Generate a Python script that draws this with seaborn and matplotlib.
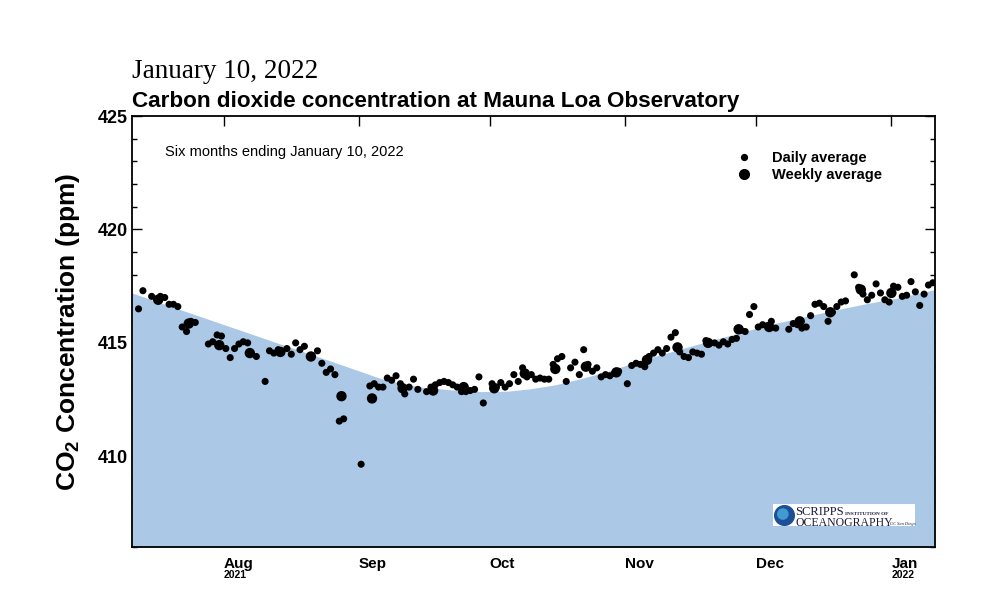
import numpy as np
import pandas as pd
import matplotlib
matplotlib.use("Agg")
import matplotlib.pyplot as plt
from matplotlib.lines import Line2D
from matplotlib.patches import Rectangle
from matplotlib.ticker import MultipleLocator
import seaborn as sns

start = pd.Timestamp("2021-07-11")
end = pd.Timestamp("2022-01-11")

# daily averages: days after Jul 11 2021, ppm
daily_day = [1, 2, 4, 6, 7, 8, 9, 10, 11, 12,
             13, 14, 17, 18, 19, 20, 21, 22, 23, 24,
             25, 26, 28, 30, 31, 32, 33, 35, 36, 37,
             38, 39, 42, 43, 44, 45, 46, 47, 48, 52,
             54, 55, 56, 57, 58, 59, 60, 61, 62, 63,
             64, 65, 67, 68, 69, 70, 71, 72, 73, 74,
             75, 76, 77, 78, 79, 80, 82, 83, 84, 85,
             86, 87, 88, 89, 90, 91, 92, 93, 94, 95,
             96, 97, 98, 99, 100, 101, 102, 103, 104, 105,
             106, 107, 108, 109, 110, 111, 113, 114, 115, 116,
             117, 118, 119, 120, 121, 122, 123, 124, 125, 126,
             127, 128, 129, 130, 131, 132, 133, 134, 135, 136,
             137, 138, 139, 140, 141, 142, 143, 144, 145, 146,
             147, 150, 151, 152, 153, 154, 155, 156, 157, 158,
             159, 160, 161, 162, 163, 165, 166, 167, 168, 169,
             170, 171, 172, 173, 174, 175, 176, 177, 178, 179,
             180, 181, 182, 183]
daily_ppm = [416.5, 417.3, 417.05, 417.05, 417.0, 416.7, 416.7, 416.6, 415.7, 415.5,
             415.95, 415.9, 414.95, 415.05, 415.35, 415.3, 414.75, 414.35, 414.75, 414.95,
             415.05, 415.0, 414.4, 413.3, 414.65, 414.55, 414.7, 414.75, 414.5, 415.0,
             414.7, 414.85, 414.65, 414.1, 413.7, 413.85, 413.6, 411.55, 411.65, 409.65,
             413.1, 413.2, 413.05, 413.05, 413.45, 413.35, 413.55, 413.2, 412.75, 413.05,
             413.4, 412.95, 412.85, 413.05, 413.15, 413.25, 413.3, 413.25, 413.15, 413.05,
             412.85, 412.85, 412.9, 412.95, 413.5, 412.35, 413.2, 413.05, 413.25, 413.05,
             413.2, 413.6, 413.3, 413.9, 413.5, 413.6, 413.4, 413.45, 413.4, 413.4,
             414.05, 414.3, 414.4, 413.3, 413.9, 414.15, 413.6, 414.7, 414.05, 413.75,
             413.9, 413.5, 413.6, 413.55, 413.65, 413.75, 413.2, 414.0, 414.1, 414.05,
             413.95, 414.4, 414.55, 414.7, 414.55, 414.75, 415.25, 415.45, 414.6, 414.4,
             414.35, 414.6, 414.55, 414.5, 415.1, 415.0, 415.0, 414.9, 415.05, 414.95,
             415.15, 415.2, 415.55, 415.5, 416.25, 416.6, 415.7, 415.8, 415.75, 415.95,
             415.65, 415.6, 415.85, 415.8, 415.65, 415.7, 416.2, 416.7, 416.75, 416.6,
             415.95, 416.35, 416.6, 416.8, 416.85, 418.0, 417.45, 417.15, 416.9, 417.1,
             417.6, 417.2, 416.9, 416.8, 417.5, 417.45, 417.05, 417.1, 417.7, 417.25,
             416.65, 417.15, 417.55, 417.65]

weekly_date = ["2021-07-17", "2021-07-24", "2021-07-31", "2021-08-07", "2021-08-14",
               "2021-08-21", "2021-08-28", "2021-09-04", "2021-09-11", "2021-09-18",
               "2021-09-25", "2021-10-02", "2021-10-09", "2021-10-16", "2021-10-23",
               "2021-10-30", "2021-11-06", "2021-11-13", "2021-11-20", "2021-11-27",
               "2021-12-04", "2021-12-11", "2021-12-18", "2021-12-25", "2022-01-01"]
weekly_ppm = [416.9, 415.85, 414.9, 414.55, 414.6, 414.4, 412.65, 412.55, 413.0, 412.9,
              413.05, 413.0, 413.65, 413.85, 413.95, 413.7, 414.25, 414.8, 415.0, 415.6,
              415.7, 415.95, 416.35, 417.35, 417.2]

# smooth seasonal curve (top of shaded area)
fit_day = [0, 11, 22.5, 34, 45.5, 57, 61.5, 66, 73, 80, 86, 91, 97, 103, 110,
           116, 123, 130, 138, 146, 153, 160, 168, 176, 184]
fit_ppm = [417.2, 416.47, 415.71, 414.95, 414.2, 413.43, 413.22, 413.06, 412.93, 412.85,
           412.87, 412.97, 413.15, 413.43, 413.8, 414.2, 414.58, 414.96, 415.38, 415.8,
           416.1, 416.4, 416.72, 417.0, 417.35]

month_ticks = ["2021-08-01", "2021-09-01", "2021-10-01", "2021-11-01", "2021-12-01", "2022-01-01"]
month_labels = ["Aug", "Sep", "Oct", "Nov", "Dec", "Jan"]
ytick_vals = [410, 415, 420, 425]

sns.set_style("ticks")
plt.rcParams["font.family"] = ["Liberation Sans", "DejaVu Sans"]
plt.rcParams["mathtext.fontset"] = "custom"
plt.rcParams["mathtext.bf"] = "Liberation Sans:bold"
plt.rcParams["mathtext.rm"] = "Liberation Sans:bold"
plt.rcParams["text.color"] = "black"
plt.rcParams["axes.labelcolor"] = "black"
plt.rcParams["xtick.color"] = "black"
plt.rcParams["ytick.color"] = "black"

daily = pd.DataFrame({"date": start + pd.to_timedelta(np.array(daily_day) + 0.5, unit="D"),
                      "ppm": daily_ppm})
weekly = pd.DataFrame({"date": pd.to_datetime(weekly_date), "ppm": weekly_ppm})
fit = pd.DataFrame({"date": start + pd.to_timedelta(fit_day, unit="D"), "ppm": fit_ppm})

fig = plt.figure(figsize=(10, 6), dpi=100)
ax = fig.add_axes([0.132, 0.0883, 0.803, 0.7183])

ax.fill_between(fit["date"], 406, fit["ppm"], color="#abc9e7", lw=0, zorder=1)
sns.scatterplot(data=daily, x="date", y="ppm", ax=ax, s=26, color="black",
                edgecolor="none", zorder=3, legend=False)
sns.scatterplot(data=weekly, x="date", y="ppm", ax=ax, s=56, color="black",
                edgecolor="none", zorder=3, legend=False)

ax.set_xlim(start, end)
ax.set_ylim(406, 425)
ax.set_xticks(pd.to_datetime(month_ticks))
ax.set_xticklabels(month_labels, ha="left", fontsize=11, fontweight="bold")
ax.set_yticks(ytick_vals)
ax.set_yticklabels([str(v) for v in ytick_vals], fontsize=13, fontweight="bold")
ax.yaxis.set_minor_locator(MultipleLocator(1))
ax.tick_params(which="both", direction="in", top=True, right=True, width=1, color="black")
ax.tick_params(which="major", length=7)
ax.tick_params(which="minor", length=3.5)
ax.tick_params(axis="x", pad=7)
ax.tick_params(axis="y", pad=3)
ax.set_xlabel("")
ax.set_ylabel(r"CO$_\mathbf{2}$ Concentration (ppm)", fontsize=19, fontweight="bold", labelpad=11)
for sp in ax.spines.values():
    sp.set_linewidth(1.3)
    sp.set_color("black")

xt = ax.get_xaxis_transform()
ax.text(pd.Timestamp("2021-08-01"), -0.053, "2021", transform=xt, ha="left", va="top",
        fontsize=7.5, fontweight="bold")
ax.text(pd.Timestamp("2022-01-01"), -0.053, "2022", transform=xt, ha="left", va="top",
        fontsize=7.5, fontweight="bold")

fig.text(0.132, 1 - 78.5 / 600, "January 10, 2022", family="Liberation Serif",
         fontsize=19.5, va="baseline")
fig.text(0.132, 1 - 106.7 / 600, "Carbon dioxide concentration at Mauna Loa Observatory",
         fontsize=16.2, fontweight="bold", va="baseline")
ax.text(0.041, 0.907, "Six months ending January 10, 2022", transform=ax.transAxes,
        fontsize=10.5, va="baseline")

handles = [Line2D([], [], marker="o", ls="none", color="black", markersize=4.2),
           Line2D([], [], marker="o", ls="none", color="black", markersize=7)]
ax.legend(handles, ["Daily average", "Weekly average"], loc="upper left",
          bbox_to_anchor=(0.753, 0.919), frameon=False, borderaxespad=0, borderpad=0,
          handlelength=1.0, handletextpad=1.4, labelspacing=0.24,
          prop={"weight": "bold", "size": 10.5})

# Scripps logo
ax.add_patch(Rectangle((0.7986, 0.0487), 0.1768, 0.051, transform=ax.transAxes,
                       facecolor="white", edgecolor="none", zorder=4))
ax.scatter([0.8119], [0.0742], s=200, color="#1d4f96", transform=ax.transAxes, zorder=5)
ax.scatter([0.8105], [0.0765], s=70, color="#3f9bd0", transform=ax.transAxes, zorder=5,
           edgecolor="none")
ax.text(0.8257, 0.0742, "SCRIPPS", transform=ax.transAxes, family="Liberation Serif",
        fontsize=9, color="#1a1a3a", va="baseline", zorder=6)
ax.text(0.8885, 0.0742, "INSTITUTION OF", transform=ax.transAxes, family="Liberation Serif",
        fontsize=3.8, fontweight="bold", color="#1a1a3a", va="baseline", zorder=6)
ax.text(0.8257, 0.0499, "OCEANOGRAPHY", transform=ax.transAxes, family="Liberation Serif",
        fontsize=8.5, color="#1a1a3a", va="baseline", zorder=6)
ax.text(0.9445, 0.0505, "UC San Diego", transform=ax.transAxes, family="Liberation Serif",
        fontsize=3.2, style="italic", color="#1a1a3a", va="baseline", zorder=6)

fig.savefig("out.png", dpi=100)
